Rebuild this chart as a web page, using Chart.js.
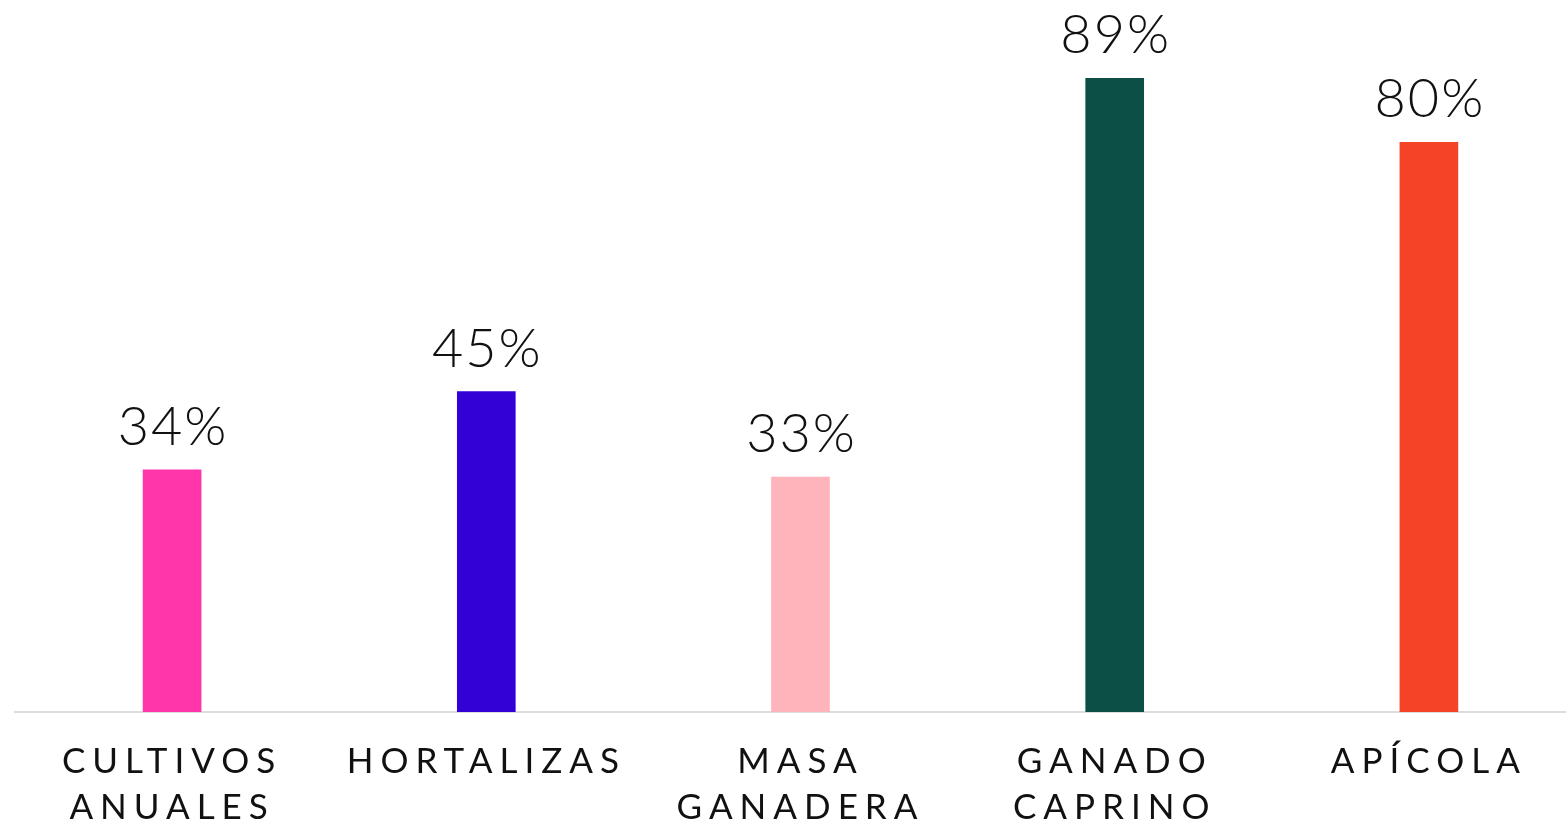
<!DOCTYPE html>
<html>
<head>
<meta charset="utf-8">
<script src="https://cdn.jsdelivr.net/npm/chart.js@4"></script>
<style>
  html, body { margin: 0; padding: 0; background: #fff; overflow: hidden; }
  #wrap { position: relative; width: 1590px; height: 821px; }
</style>
</head>
<body>
<div id="wrap"><canvas id="chart"></canvas></div>
<script>
// data
const categories = [['CULTIVOS', 'ANUALES'], 'HORTALIZAS', ['MASA', 'GANADERA'], ['GANADO', 'CAPRINO'], 'APÍCOLA'];
const values = [34, 45, 33, 89, 80];
const barColors = ['#ff35aa', '#3300d6', '#ffb3ba', '#0c4f47', '#f54328'];

// letter spacing for the axis labels (canvas state)
const spacing = {
  id: 'spacing',
  beforeDraw(chart) { chart.ctx.letterSpacing = '7px'; },
  afterDraw(chart) { chart.ctx.letterSpacing = '0px'; },
};

// value labels above each bar
const valueLabels = {
  id: 'valueLabels',
  afterDatasetsDraw(chart) {
    const { ctx } = chart;
    const meta = chart.getDatasetMeta(0);
    ctx.save();
    ctx.letterSpacing = '2px';
    ctx.fillStyle = '#111';
    ctx.font = '300 54px Lato';
    ctx.textAlign = 'center';
    ctx.textBaseline = 'alphabetic';
    meta.data.forEach((bar, i) => {
      ctx.fillText(values[i] + '%', bar.x + 1, bar.y - 25);
    });
    ctx.restore();
  },
};

new Chart(document.getElementById('chart'), {
  type: 'bar',
  data: {
    labels: categories,
    datasets: [{
      data: values,
      backgroundColor: barColors,
      barThickness: 58,
    }],
  },
  options: {
    responsive: true,
    maintainAspectRatio: false,
    animation: false,
    layout: { padding: { left: 15, right: 4, top: 0, bottom: 0 } },
    plugins: {
      legend: { display: false },
      tooltip: { enabled: false },
    },
    scales: {
      x: {
        grid: { display: false, drawTicks: false },
        border: { display: true, color: '#dddddd', width: 2 },
        ticks: {
          color: '#111',
          font: { family: 'Lato', size: 35, weight: 400, lineHeight: 1.3 },
          padding: 27,
          maxRotation: 0,
          autoSkip: false,
        },
        afterFit(scale) { scale.height = 109; },
      },
      y: {
        display: false,
        min: 0,
        max: 100,
      },
    },
  },
  plugins: [spacing, valueLabels],
});
</script>
</body>
</html>
